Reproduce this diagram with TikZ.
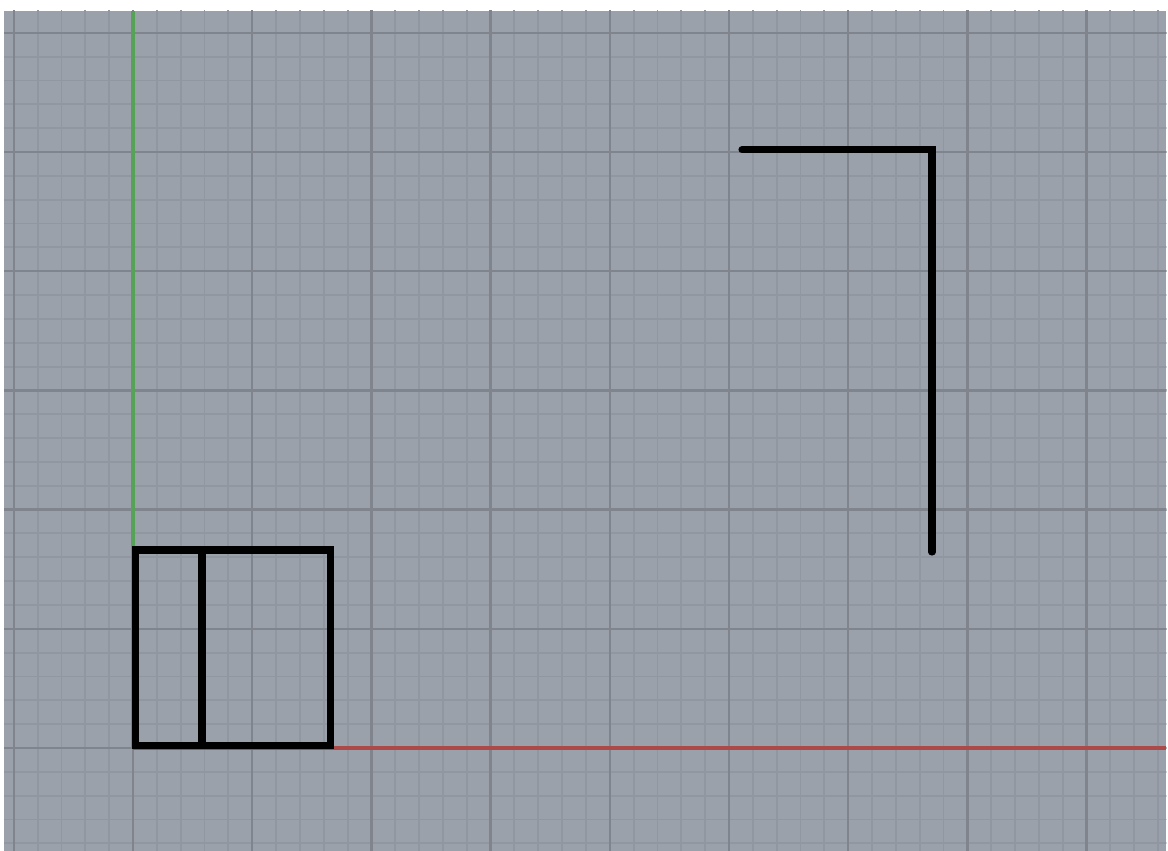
\documentclass[tikz,border=0pt]{standalone}
\usepackage{tikz}
\usepackage{xcolor}
\usetikzlibrary{calc}
\usetikzlibrary{positioning, backgrounds}
\definecolor{viewbg}{RGB}{155,161,170}
\definecolor{minorgray}{RGB}{145,151,160}
\definecolor{majorgray}{RGB}{128,132,141}
\definecolor{axisgreen}{RGB}{86,162,86}
\definecolor{axisred}{RGB}{172,74,74}
\tikzset{minorgrid/.style={draw=minorgray, line width=0.45pt},
majorgrid/.style={draw=majorgray, line width=0.6pt},
%axis lines through the origin
axisx/.style={draw=axisred, line width=0.95pt},
axisy/.style={draw=axisgreen, line width=0.95pt},
curveline/.style={draw=black, line width=1.7pt}}

\begin{document}
\begin{tikzpicture}
 \useasboundingbox (-1.1158,-0.864) rectangle (8.683,6.275);
 %Drawing Viewport Background
 \fill[white] (-1.1158,-0.864) rectangle (8.683,6.275);
 \fill[viewbg] (-1.082,-0.864) rectangle (8.67,6.183);
 \begin{scope}
 \clip (-1.082,-0.864) rectangle (8.67,6.183);
 \draw[minorgrid, step=0.2] (-2,-1) grid (9,7);
 \draw[majorgrid, step=1] (-2,-1) grid (9,7);
 \end{scope}

 %Drawing Axes
 \coordinate (origin) at (0,0);
 \coordinate (xend) at (8.67,0);
 \coordinate (yend) at (0,6.183);
 \draw[axisx] (origin) -- (xend);
 \draw[axisy] (origin) -- (yend);

 %Drawing Box and divider
 \coordinate (boxsw) at (0.021,0.021);
 \coordinate (boxne) at (1.657,1.661);
 \coordinate (divbot) at (0.579,0.021);
 \coordinate (divtop) at (0.579,1.661);
 \draw[curveline, line join=miter] (boxsw) rectangle (boxne);
 \draw[curveline] (divbot) -- (divtop);

 %Drawing Corner line
 \coordinate (lstart) at (5.109,5.019);
 \coordinate (lcorner) at (6.703,5.019);
 \coordinate (lend) at (6.703,1.644);
 \draw[curveline, line cap=round, line join=miter] (lstart) -- (lcorner) -- (lend);
\end{tikzpicture}
\end{document}
